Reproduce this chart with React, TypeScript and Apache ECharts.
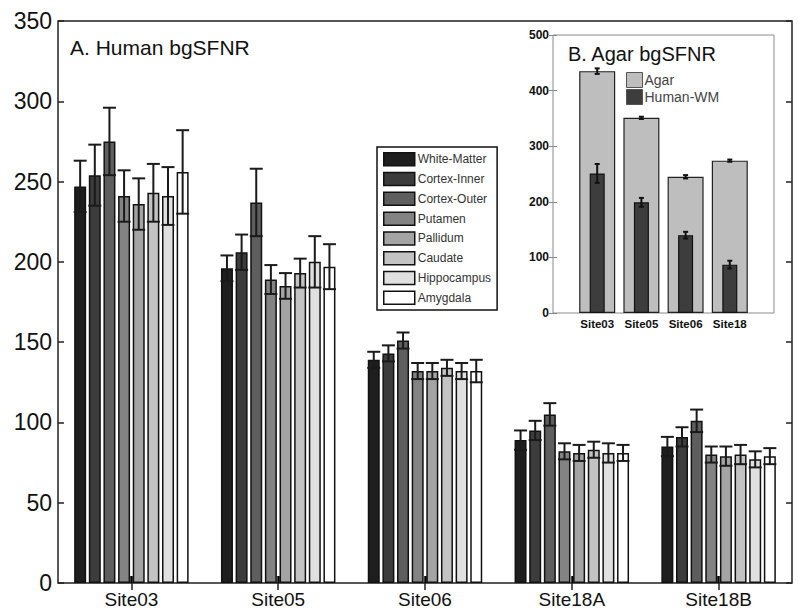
import React, { useEffect, useRef } from 'react';
import * as echarts from 'echarts';

const FONT = '"Liberation Sans", Arial, Helvetica, sans-serif';

// Panel A: Human bgSFNR
const sites = ['Site03', 'Site05', 'Site06', 'Site18A', 'Site18B'];
const regions = ['White-Matter', 'Cortex-Inner', 'Cortex-Outer', 'Putamen', 'Pallidum', 'Caudate', 'Hippocampus', 'Amygdala'];
const regionColors = ['#1e1e1e', '#3c3c3c', '#5e5e5e', '#838383', '#a4a4a4', '#c3c3c3', '#e0e0e0', '#ffffff'];

const whiteMatter = [247, 196, 139, 89, 85];
const cortexInner = [254, 206, 143, 95, 91];
const cortexOuter = [275, 237, 151, 105, 101];
const putamen = [241, 189, 132, 82, 80];
const pallidum = [236, 185, 132, 81, 79];
const caudate = [243, 193, 134, 83, 80];
const hippocampus = [241, 200, 132, 81, 77];
const amygdala = [256, 197, 132, 81, 79];

const whiteMatterErr = [16, 8, 5, 6, 6];
const cortexInnerErr = [19, 11, 5, 6, 6];
const cortexOuterErr = [21, 21, 5, 7, 7];
const putamenErr = [16, 9, 5, 5, 5];
const pallidumErr = [16, 8, 5, 5, 6];
const caudateErr = [18, 9, 5, 5, 6];
const hippocampusErr = [18, 16, 5, 6, 5];
const amygdalaErr = [26, 14, 7, 5, 5];

const regionValues = [whiteMatter, cortexInner, cortexOuter, putamen, pallidum, caudate, hippocampus, amygdala];
const regionErrors = [whiteMatterErr, cortexInnerErr, cortexOuterErr, putamenErr, pallidumErr, caudateErr, hippocampusErr, amygdalaErr];

// Panel B: Agar bgSFNR
const agarSites = ['Site03', 'Site05', 'Site06', 'Site18'];
const agarMean = [435, 351, 245, 274];
const agarErr = [5, 2, 3, 2];
const humanWM = [251, 199, 140, 87];
const humanWMErr = [17, 8, 6, 7];

const BAR_W = 12;
const BAR_GAP = 0.22;

export default function App() {
  const ref = useRef<HTMLDivElement>(null);
  useEffect(() => {
    if (!ref.current) return;
    const chart = echarts.init(ref.current, undefined, { renderer: 'svg' });
    const pitch = BAR_W * (1 + BAR_GAP);

    const barSeries = regions.map((name, i) => ({
      type: 'bar',
      name,
      xAxisIndex: 0,
      yAxisIndex: 0,
      data: regionValues[i],
      barWidth: BAR_W,
      barGap: BAR_GAP * 100 + '%',
      itemStyle: { color: regionColors[i], borderColor: '#111', borderWidth: 1.5 },
      z: 2,
    }));

    const errSeries = regions.map((name, i) => ({
      type: 'custom',
      name: name + ' SD',
      xAxisIndex: 0,
      yAxisIndex: 0,
      z: 5,
      data: regionValues[i].map((v, k) => [k, v, regionErrors[i][k]]),
      encode: { x: 0, y: 1 },
      renderItem: (params: any, api: any) => {
        const k = api.value(0);
        const v = api.value(1);
        const e = api.value(2);
        const top = api.coord([k, v + e]);
        const bot = api.coord([k, v - e]);
        const x = top[0] + (i - 3.5) * pitch;
        const hw = 6.5;
        const st = { stroke: '#1a1a1a', lineWidth: 2 };
        return {
          type: 'group',
          children: [
            { type: 'line', shape: { x1: x, y1: top[1], x2: x, y2: bot[1] }, style: st },
            { type: 'line', shape: { x1: x - hw, y1: top[1], x2: x + hw, y2: top[1] }, style: st },
            { type: 'line', shape: { x1: x - hw, y1: bot[1], x2: x + hw, y2: bot[1] }, style: st },
          ],
        };
      },
    }));

    const insetErr = (name: string, vals: number[], errs: number[], axis: number) => ({
      type: 'custom',
      name,
      xAxisIndex: axis,
      yAxisIndex: 2,
      z: 6,
      data: vals.map((v, k) => [k + 1, v, errs[k]]),
      encode: { x: 0, y: 1 },
      renderItem: (params: any, api: any) => {
        const top = api.coord([api.value(0), api.value(1) + api.value(2)]);
        const bot = api.coord([api.value(0), api.value(1) - api.value(2)]);
        const x = top[0];
        const hw = 2.5;
        const st = { stroke: '#111', lineWidth: 2 };
        return {
          type: 'group',
          children: [
            { type: 'line', shape: { x1: x, y1: top[1], x2: x, y2: bot[1] }, style: st },
            { type: 'line', shape: { x1: x - hw, y1: top[1], x2: x + hw, y2: top[1] }, style: st },
            { type: 'line', shape: { x1: x - hw, y1: bot[1], x2: x + hw, y2: bot[1] }, style: st },
          ],
        };
      },
    });

    const option: any = {
      animation: false,
      backgroundColor: '#ffffff',
      textStyle: { fontFamily: FONT },
      title: [
        {
          text: 'A. Human bgSFNR',
          left: 70,
          top: 37,
          padding: 0,
          textStyle: { fontSize: 21, fontWeight: 'normal', color: '#111', fontFamily: FONT },
        },
        {
          text: 'B. Agar bgSFNR',
          left: 568,
          top: 44,
          padding: 0,
          textStyle: { fontSize: 20, fontWeight: 'normal', color: '#111', fontFamily: FONT },
        },
      ],
      legend: [
        {
          data: regions,
          orient: 'vertical',
          left: 377,
          top: 147,
          padding: [5, 6, 5, 6],
          itemWidth: 31,
          itemHeight: 13,
          itemGap: 5.3,
          icon: 'rect',
          borderColor: '#111',
          borderWidth: 1.5,
          backgroundColor: '#fff',
          selectedMode: false,
          itemStyle: { borderColor: '#111', borderWidth: 1.5 },
          textStyle: { fontSize: 12, color: '#333', fontFamily: FONT, lineHeight: 13, padding: [0, 0, 0, -2] },
        },
        {
          data: ['Agar', 'Human-WM'],
          orient: 'vertical',
          left: 626,
          top: 72,
          padding: 0,
          itemWidth: 16,
          itemHeight: 15,
          itemGap: 1,
          icon: 'rect',
          selectedMode: false,
          itemStyle: { borderColor: '#555', borderWidth: 1 },
          textStyle: { fontSize: 14, color: '#444', fontFamily: FONT, lineHeight: 15, padding: [0, 0, 0, -3] },
        },
      ],
      grid: [
        { left: 58, top: 21, right: 8, bottom: 33, show: true, borderColor: '#222', borderWidth: 1.5, containLabel: false },
        { left: 553, top: 35, width: 221, height: 278, show: true, borderColor: '#8a8a8a', borderWidth: 1, backgroundColor: '#fff', containLabel: false },
      ],
      xAxis: [
        {
          type: 'category',
          gridIndex: 0,
          data: sites,
          axisLine: { show: false },
          axisTick: { show: true, inside: true, alignWithLabel: true, length: 7, lineStyle: { color: '#000', width: 2.5 } },
          axisLabel: { fontSize: 19, color: '#111', margin: 7, fontFamily: FONT },
        },
        {
          type: 'category',
          gridIndex: 0,
          position: 'top',
          data: sites,
          axisLine: { show: false },
          axisTick: { show: true, inside: true, alignWithLabel: true, length: 7, lineStyle: { color: '#222', width: 1.5 } },
          axisLabel: { show: false },
        },
        {
          type: 'value',
          gridIndex: 1,
          min: 0,
          max: 5,
          interval: 1,
          splitLine: { show: false },
          axisLine: { show: false },
          axisTick: { show: false },
          axisLabel: {
            fontSize: 11.5,
            fontWeight: 'bold',
            color: '#111',
            margin: 5,
            fontFamily: FONT,
            formatter: (v: number) => agarSites[v - 1] || '',
          },
        },
        {
          type: 'value',
          gridIndex: 1,
          min: 0,
          max: 5,
          show: false,
        },
      ],
      yAxis: [
        {
          type: 'value',
          gridIndex: 0,
          min: 0,
          max: 350,
          interval: 50,
          splitLine: { show: false },
          axisLine: { show: false },
          axisTick: { show: true, inside: true, length: 6, lineStyle: { color: '#222', width: 1.5 } },
          axisLabel: { fontSize: 23, color: '#111', margin: 6, fontFamily: FONT },
        },
        {
          type: 'value',
          gridIndex: 0,
          position: 'right',
          min: 0,
          max: 350,
          interval: 50,
          splitLine: { show: false },
          axisLine: { show: false },
          axisTick: { show: true, inside: true, length: 6, lineStyle: { color: '#222', width: 1.5 } },
          axisLabel: { show: false },
        },
        {
          type: 'value',
          gridIndex: 1,
          min: 0,
          max: 500,
          interval: 100,
          splitLine: { show: false },
          axisLine: { show: false },
          axisTick: { show: true, inside: true, length: 4, lineStyle: { color: '#888', width: 1 } },
          axisLabel: { fontSize: 12, fontWeight: 'bold', color: '#111', margin: 4, fontFamily: FONT },
        },
        {
          type: 'value',
          gridIndex: 1,
          position: 'right',
          min: 0,
          max: 500,
          interval: 100,
          splitLine: { show: false },
          axisLine: { show: false },
          axisTick: { show: true, inside: true, length: 4, lineStyle: { color: '#888', width: 1 } },
          axisLabel: { show: false },
        },
      ],
      series: [
        ...barSeries,
        ...errSeries,
        {
          type: 'bar',
          name: 'Agar',
          xAxisIndex: 2,
          yAxisIndex: 2,
          data: agarMean.map((v, k) => [k + 1, v]),
          barWidth: 36,
          itemStyle: { color: '#bebebe', borderColor: '#222', borderWidth: 1.2 },
          z: 2,
        },
        {
          type: 'bar',
          name: 'Human-WM',
          xAxisIndex: 3,
          yAxisIndex: 2,
          data: humanWM.map((v, k) => [k + 1, v]),
          barWidth: 15,
          itemStyle: { color: '#3d3d3d', borderColor: '#111', borderWidth: 1.2 },
          z: 3,
        },
        insetErr('Agar SD', agarMean, agarErr, 2),
        insetErr('Human-WM SD', humanWM, humanWMErr, 3),
      ],
    };
    chart.setOption(option);
    return () => chart.dispose();
  }, []);
  return <div ref={ref} style={{ position: 'absolute', left: 0, top: 0, width: 800, height: 616 }} />;
}
